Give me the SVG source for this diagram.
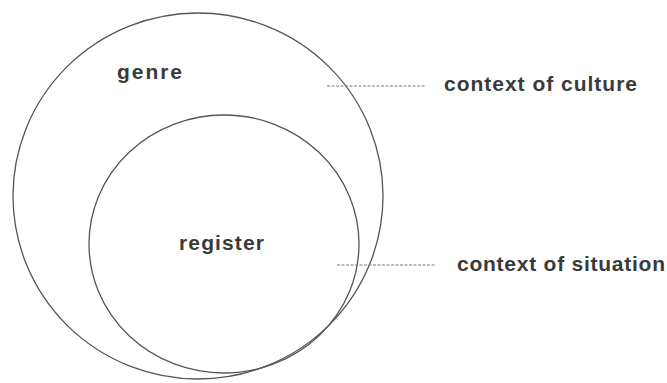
<svg xmlns="http://www.w3.org/2000/svg" width="667" height="383" viewBox="0 0 667 383">
<style>
.c{fill:none;stroke:#555;stroke-width:1.3}
.d{stroke:#777;stroke-width:1;stroke-dasharray:3 1.5}
text{font-family:"Liberation Sans",Arial,sans-serif;font-weight:bold;font-size:21px;fill:#3a3a3a}
</style>
<rect width="667" height="383" fill="#fff"/>
<g id="genre">
<ellipse class="c" cx="198" cy="196" rx="185" ry="183"/>
<text x="117" y="79" textLength="65" lengthAdjust="spacing">genre</text>
</g>
<g id="register">
<ellipse class="c" cx="224" cy="244" rx="135" ry="129"/>
<text x="179" y="250" textLength="85" lengthAdjust="spacing">register</text>
</g>
<g id="connectors">
<line class="d" x1="327" y1="86" x2="425" y2="86"/>
<line class="d" x1="337" y1="265" x2="435" y2="265"/>
</g>
<g id="culture">
<text x="444" y="91" textLength="193" lengthAdjust="spacing">context of culture</text>
</g>
<g id="situation">
<text x="457" y="271" textLength="208" lengthAdjust="spacing">context of situation</text>
</g>
</svg>
